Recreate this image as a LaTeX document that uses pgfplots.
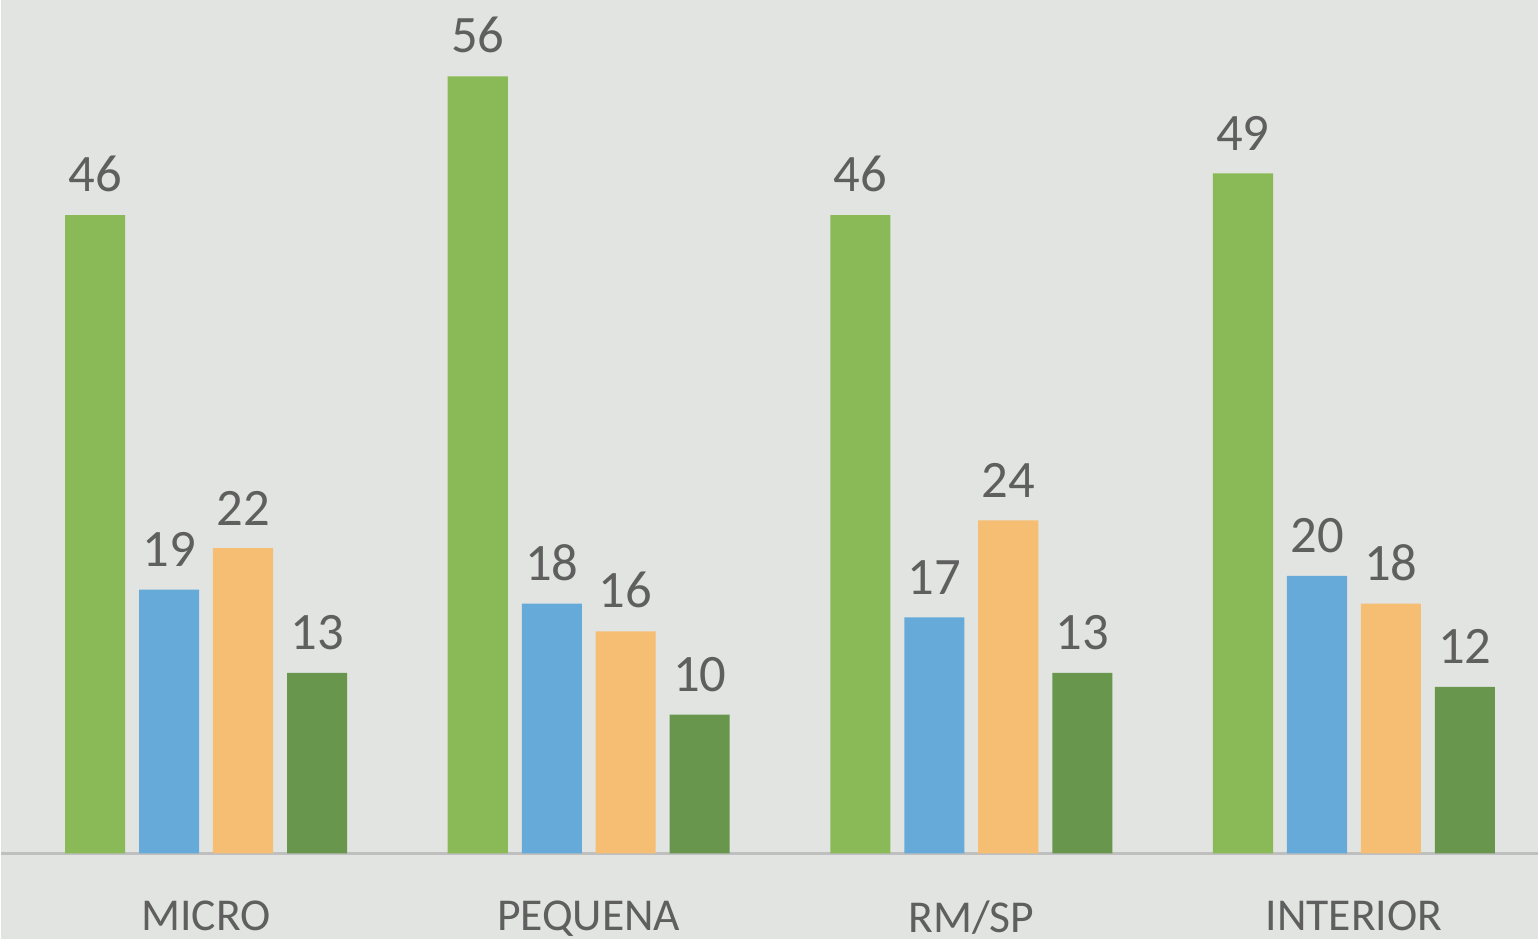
\documentclass[border=0pt]{standalone}
\usepackage{fontspec}
\setmainfont{Carlito}
\usepackage{pgfplots}
\pgfplotsset{compat=1.18}
\definecolor{bgcol}{RGB}{226,228,225}
\definecolor{cA}{RGB}{138,186,88}
\definecolor{cB}{RGB}{102,170,218}
\definecolor{cC}{RGB}{245,190,115}
\definecolor{cD}{RGB}{104,150,76}
\definecolor{txt}{RGB}{95,95,95}
\begin{document}
\begin{tikzpicture}
\begin{axis}[
  scale only axis,
  width=15.39cm, height=9.41cm,
  xmin=-0.535, xmax=3.48,
  ymin=-6.2, ymax=61.5,
  axis background/.style={fill=bgcol},
  axis x line=middle,
  axis y line=none,
  axis line style={-, draw=black!25, line width=0.8pt},
  xtick={0,1,2,3},
  xticklabels={MICRO,PEQUENA,RM/SP,INTERIOR},
  major tick length=0pt,
  xticklabel style={font=\fontsize{13}{15}\selectfont, text=txt, yshift=-10pt},
  /pgf/number format/assume math mode=true,
  ybar,
  bar width=0.157,
  nodes near coords,
  every node near coord/.append style={font=\fontsize{15}{17}\selectfont, text=txt, yshift=3pt},
  clip=false,
]
\addplot[fill=cA, draw=none, bar shift=-0.29] coordinates {(0,46) (1,56) (2,46) (3,49)};
\addplot[fill=cB, draw=none, bar shift=-0.0965] coordinates {(0,19) (1,18) (2,17) (3,20)};
\addplot[fill=cC, draw=none, bar shift=0.0965] coordinates {(0,22) (1,16) (2,24) (3,18)};
\addplot[fill=cD, draw=none, bar shift=0.29] coordinates {(0,13) (1,10) (2,13) (3,12)};
\end{axis}
\end{tikzpicture}
\end{document}
